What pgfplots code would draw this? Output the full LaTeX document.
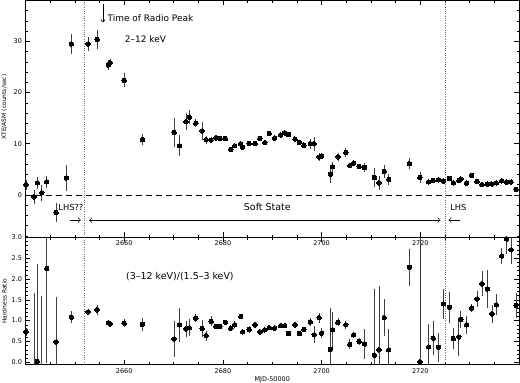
\documentclass[border=0pt]{standalone}
\usepackage{fontspec}
\setmainfont{DejaVu Sans}
\usepackage{pgfplots}
\usepackage{pgfplotstable}
\pgfplotsset{compat=1.18}
\usetikzlibrary{arrows.meta}
\tikzset{barb/.style={-{Straight Barb[length=2.5bp,width=5bp]}, line width=0.5bp}}

\pgfplotstableread{
x y e
2640.1 2.0 1.0
2641.7 -0.4 1.4
2642.4 2.35 1.2
2643.3 0.4 1.6
2644.3 2.55 1.2
2646.2 -3.45 1.8
2648.3 3.3 2.6
2649.3 29.5 2.0
2652.7 29.5 1.3
2654.5 30.4 1.8
2656.8 25.4 1.0
2657.1 25.8 0.8
2660.0 22.4 1.4
2663.7 10.8 1.1
2670.1 12.2 2.8
2671.2 9.6 2.1
2672.5 14.3 1.7
2673.2 15.2 1.4
2674.5 14.0 0.8
2675.8 12.5 1.8
2676.6 10.8 0.8
2677.6 10.7 0.6
2678.6 11.15 0.4
2679.4 11.0 0.4
2680.5 11.0 0.4
2681.6 8.9 0.4
2682.4 9.6 0.4
2683.6 10.0 0.5
2684.0 9.3 0.5
2685.3 10.05 0.4
2686.5 10.05 0.4
2687.5 11.0 0.4
2688.5 10.2 0.4
2689.4 12.0 0.4
2690.5 11.1 0.4
2691.7 11.7 0.4
2692.5 12.1 0.4
2693.3 11.8 0.4
2694.6 10.9 0.4
2695.5 10.25 0.4
2696.4 9.7 0.4
2697.7 10.0 1.0
2698.5 10.0 1.4
2699.5 7.4 0.8
2700.0 7.6 0.6
2701.8 4.05 1.8
2702.2 5.5 1.0
2703.3 7.4 0.8
2704.9 8.3 0.9
2705.7 5.7 0.5
2706.5 6.2 0.4
2707.6 5.55 0.4
2708.7 5.35 0.9
2710.7 3.4 1.8
2711.6 2.35 1.4
2712.7 4.6 1.3
2713.6 3.0 1.0
2717.8 6.1 1.1
2719.9 3.4 1.1
2721.7 2.55 0.5
2722.6 2.8 0.4
2723.7 2.95 0.4
2724.7 2.7 0.4
2725.9 3.2 0.4
2726.7 2.35 0.4
2727.8 2.8 0.4
2728.2 3.1 0.6
2729.4 2.3 0.4
2730.4 3.8 0.4
2731.5 2.6 0.4
2732.5 2.0 0.4
2733.6 2.1 0.4
2734.5 2.1 0.4
2735.4 2.35 0.4
2736.5 2.75 0.4
2737.5 2.5 0.4
2738.4 2.5 0.4
2739.4 1.05 0.4
}\asmdata

\pgfplotstableread{
x y e
2640.1 0.73 0.1
2641.7 -0.3 1.97
2642.4 0.02 2.33
2643.3 -0.3 1.9
2644.3 2.25 2.27
2646.2 0.49 1.07
2649.3 1.08 0.14
2652.7 1.21 0.08
2654.5 1.26 0.12
2656.8 0.95 0.06
2657.1 0.92 0.05
2660.0 0.94 0.1
2663.7 0.91 0.15
2670.1 0.56 0.44
2671.2 0.90 0.41
2672.5 0.80 0.2
2673.2 0.83 0.2
2674.5 1.06 0.1
2675.8 0.81 0.2
2676.6 0.64 0.12
2677.6 0.98 0.12
2678.6 0.86 0.05
2679.4 0.86 0.05
2680.5 0.96 0.05
2681.6 0.82 0.05
2682.4 0.90 0.08
2683.6 1.10 0.06
2684.0 0.73 0.08
2685.3 0.79 0.08
2686.5 0.90 0.06
2687.5 0.73 0.05
2688.5 0.78 0.05
2689.4 0.83 0.05
2690.5 0.82 0.05
2691.7 0.88 0.05
2692.5 0.88 0.05
2693.3 0.69 0.06
2694.6 0.90 0.05
2695.5 0.69 0.05
2696.4 0.79 0.05
2697.7 0.97 0.1
2698.5 0.66 0.2
2699.5 1.07 0.12
2700.0 0.70 0.12
2701.8 0.31 1.0
2702.2 0.78 0.42
2703.3 0.96 0.1
2704.9 0.90 0.1
2705.7 0.43 0.12
2706.5 0.66 0.06
2707.6 0.50 0.08
2708.7 0.44 0.35
2710.7 0.17 1.58
2711.6 0.30 1.53
2712.7 1.07 0.45
2713.6 0.30 0.5
2717.8 2.28 0.45
2719.9 0.01 3.5
2721.7 0.37 0.54
2722.6 0.58 0.4
2723.7 0.36 0.35
2724.7 1.40 0.37
2725.9 1.32 0.37
2726.7 0.57 0.25
2727.8 0.61 0.45
2728.2 1.03 0.2
2729.4 0.90 0.22
2730.4 1.30 0.1
2731.5 1.52 0.2
2732.5 1.88 0.3
2733.6 1.76 0.45
2734.5 1.16 0.22
2735.4 1.38 0.25
2736.5 2.55 0.2
2737.5 2.96 0.35
2738.4 2.70 0.35
2739.4 1.37 0.3
}\hrdata

\pgfplotsset{
  panel/.style={
    scale only axis,
    width=493.5bp,
    xmin=2640, xmax=2740,
    xtick={2660,2680,2700,2720},
    minor xtick={2640,2645,...,2740},
    major tick length=5bp,
    minor tick length=2.5bp,
    tick style={line width=0.5bp, black},
    axis line style={line width=0.6bp, black},
    /pgf/number format/assume math mode=true,
    tick label style={font=\fontsize{6.5}{7.5}\selectfont},
    label style={font=\fontsize{6}{7}\selectfont},
    xticklabel style={/pgf/number format/1000 sep={}},
    scaled ticks=false,
  },
  datapts/.style={
    only marks, mark=*, mark size=2.25bp, black,
    mark options={fill=black, draw=black, line width=0pt},
    error bars/.cd, y dir=both, y explicit, error mark=none,
    error bar style={line width=0.6bp, black!75},
  },
}

\begin{document}
\begin{tikzpicture}
\useasboundingbox (0,0) rectangle (520bp,383bp);

% ---------------- upper panel ----------------
\begin{axis}[panel,
  at={(25.5bp,145.7bp)}, anchor=south west,
  height=236.8bp,
  ymin=-8.3, ymax=38,
  ytick={0,10,20,30},
  minor ytick={-8,-6,...,38},
  ylabel={XTE/ASM (counts/sec)},
  ylabel style={at={(axis description cs:-0.043,0.55)}, anchor=center},
]
\addplot[datapts] table[x=x, y=y, y error=e] {\asmdata};
\addplot[no markers, line width=0.6bp, dash pattern=on 6bp off 4bp] coordinates {(2640,0) (2740,0)};
\addplot[no markers, line width=0.5bp, black!60, dash pattern=on 0.7bp off 1.6bp] coordinates {(2652,-8.3) (2652,38)};
\addplot[no markers, line width=0.5bp, black!60, dash pattern=on 0.7bp off 1.6bp] coordinates {(2725,-8.3) (2725,38)};
\draw[-{Straight Barb[length=2.5bp,width=4.5bp]}, line width=0.6bp] (axis cs:2655.7,37.3) -- (axis cs:2655.7,33.7);
\node[anchor=west, font=\fontsize{9}{10}\selectfont, inner sep=0pt] at (axis cs:2656.6,34.6) {Time of Radio Peak};
\node[font=\fontsize{9}{10}\selectfont, inner sep=0pt] at (axis cs:2664.3,30.4) {2--12 keV};
\node[font=\fontsize{8.3}{9}\selectfont, inner sep=0pt] at (axis cs:2649.2,-2.45) {LHS??};
\node[font=\fontsize{9.5}{10}\selectfont, inner sep=0pt] at (axis cs:2689.0,-2.45) {Soft State};
\node[font=\fontsize{8.3}{9}\selectfont, inner sep=0pt] at (axis cs:2727.7,-2.5) {LHS};
\draw[{Straight Barb[length=2.5bp,width=5bp]}-{Straight Barb[length=2.5bp,width=5bp]}, line width=0.5bp] (axis cs:2652.9,-4.95) -- (axis cs:2724.1,-4.95);
\draw[barb] (axis cs:2649.0,-4.95) -- (axis cs:2651.2,-4.95);
\draw[barb] (axis cs:2728.0,-4.95) -- (axis cs:2725.7,-4.95);
\end{axis}

% ---------------- lower panel ----------------
\begin{axis}[panel,
  at={(25.5bp,18.3bp)}, anchor=south west,
  height=127.4bp,
  ymin=-0.058, ymax=3.0,
  ytick={0,0.5,...,3.0},
  minor y tick num=4,
  yticklabel style={/pgf/number format/.cd, fixed, fixed zerofill, precision=1},
  ylabel={Hardness Ratio},
  ylabel style={at={(axis description cs:-0.043,0.5)}, anchor=center},
  xlabel={MJD-50000},
  xlabel style={font=\fontsize{6.5}{7.5}\selectfont, at={(axis description cs:0.5,-0.115)}, anchor=center},
]
\addplot[datapts] table[x=x, y=y, y error=e] {\hrdata};
\addplot[no markers, line width=0.5bp, black!60, dash pattern=on 0.7bp off 1.6bp] coordinates {(2652,-0.058) (2652,3.0)};
\addplot[no markers, line width=0.5bp, black!60, dash pattern=on 0.7bp off 1.6bp] coordinates {(2725,-0.058) (2725,3.0)};
\node[font=\fontsize{9.5}{10}\selectfont, inner sep=0pt] at (axis cs:2671.3,2.05) {(3--12 keV)/(1.5--3 keV)};
\end{axis}
\end{tikzpicture}
\end{document}
